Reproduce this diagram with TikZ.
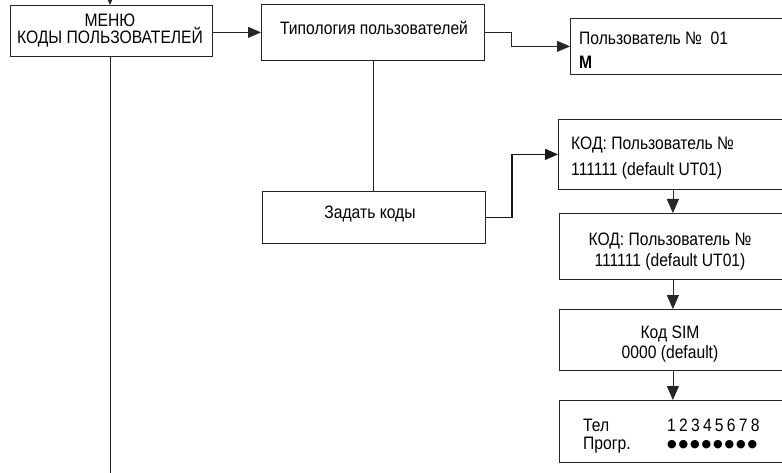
\documentclass[tikz,border=0pt]{standalone}
\usepackage{fontspec}
\setmainfont{Liberation Sans}[FakeStretch=0.87]
\newfontfamily\digitfont{Liberation Sans}[FakeStretch=0.87,LetterSpace=18]
\newfontfamily\dotfont{DejaVu Sans}[LetterSpace=17]
\usetikzlibrary{arrows.meta}
\begin{document}
\begin{tikzpicture}[x=1pt,y=-1pt,
  box/.style={draw=black!85, line width=0.8pt, inner sep=0pt, anchor=north west},
  txt/.style={inner sep=0pt, font=\fontsize{18}{20}\selectfont},
  conn/.style={draw=black!85, line width=0.8pt},
  thick conn/.style={draw=black!90, line width=1.4pt},
  arr/.style={-{Triangle[length=13pt,width=11pt]}},
  darr/.style={-{Triangle[length=14pt,width=12pt]}}]
\useasboundingbox (0,0) rectangle (782,473);
% boxes
\node[box, minimum width=202pt, minimum height=51pt] (menu) at (10,5) {};
\node[box, minimum width=223pt, minimum height=56pt] (tip) at (261,4) {};
\node[box, minimum width=216pt, minimum height=56pt] (user) at (570,18) {};
\node[box, minimum width=223pt, minimum height=52pt] (zad) at (262,191) {};
\node[box, minimum width=228pt, minimum height=70pt] (kod1) at (558,119) {};
\node[box, minimum width=227pt, minimum height=66pt] (kod2) at (559,213) {};
\node[box, minimum width=227pt, minimum height=61pt] (sim) at (559,309) {};
\node[box, minimum width=227pt, minimum height=62pt] (tel) at (559,400) {};
% texts
\node[txt, anchor=base] (menuA) at (110,27) {МЕНЮ};
\node[txt, anchor=base] (menuB) at (110,44) {КОДЫ ПОЛЬЗОВАТЕЛЕЙ};
\node[txt, anchor=base] (tipA) at (374,35) {Типология пользователей};
\node[txt, anchor=base west] (userA) at (579,45) {Пользователь №\ \ 01};
\node[txt, anchor=base west, font=\fontsize{18}{20}\selectfont\bfseries] (userB) at (579,69) {М};
\node[txt, anchor=base] (zadA) at (370,219) {Задать коды};
\node[txt, anchor=base west] (kod1A) at (571,150) {КОД: Пользователь №};
\node[txt, anchor=base west] (kod1B) at (571,176) {111111 (default UT01)};
\node[txt, anchor=base] (kod2A) at (670,246) {КОД: Пользователь №};
\node[txt, anchor=base] (kod2B) at (670,266) {111111 (default UT01)};
\node[txt, anchor=base] (simA) at (670,338) {Код SIM};
\node[txt, anchor=base] (simB) at (670,358) {0000 (default)};
\node[txt, anchor=base west] (telA) at (583,431) {Тел};
\node[txt, anchor=base west] (telB) at (583,449) {Прогр.};
\node[txt, anchor=base west, font=\fontsize{18}{20}\digitfont] (telC) at (667,431) {12345678};
\node[txt, anchor=base west, font=\fontsize{11}{13}\dotfont] (telD) at (667,447) {●●●●●●●●};
% connectors
\coordinate (topin) at (110,-10);
\coordinate (menuend) at (110,473);
\draw[conn, arr] (topin) -- (menu.north -| topin);
\draw[conn] (menu.south -| menuend) -- (menuend);
\draw[conn, arr] (menu.east |- tip.west) -- (tip.west);
\draw[conn, arr] (tip.east) -- ++(27,0) |- (user.west);
\draw[conn] (tip.south) -- (tip.south |- zad.north);
\draw[thick conn, arr] (zad.east) -- ++(26,0) |- (kod1.west);
\draw[conn, darr] (kod1.south -| kod2.north) -- (kod2.north);
\draw[conn, darr] (kod2.south) -- (sim.north);
\draw[conn, darr] (sim.south) -- (tel.north);
\end{tikzpicture}
\end{document}
